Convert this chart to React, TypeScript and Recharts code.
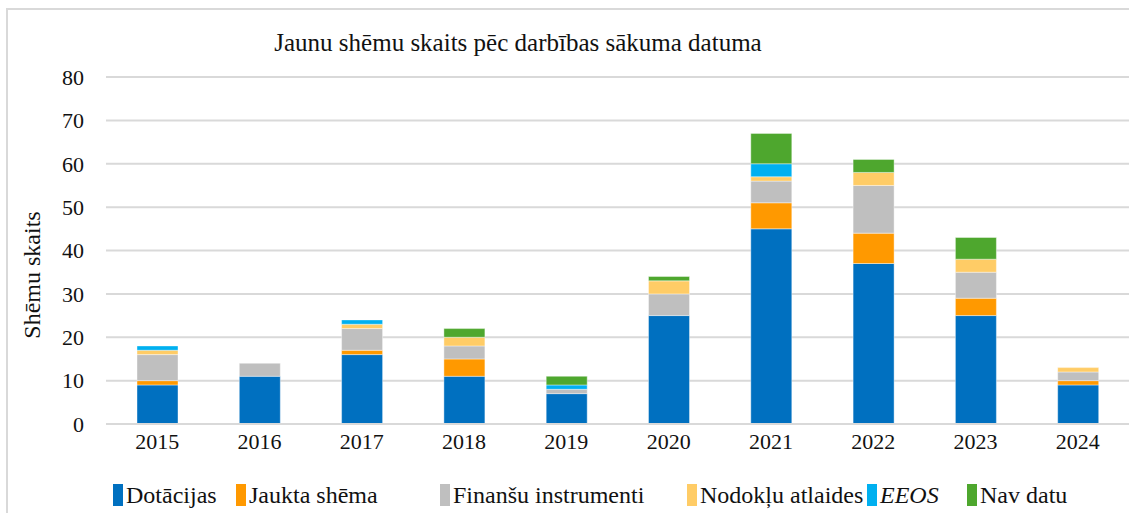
import React from 'react';
import { BarChart, Bar, XAxis, YAxis, CartesianGrid } from 'recharts';

const years = ['2015', '2016', '2017', '2018', '2019', '2020', '2021', '2022', '2023', '2024'];
const dotacijas = [9, 11, 16, 11, 7, 25, 45, 37, 25, 9];
const jaukta = [1, 0, 1, 4, 0, 0, 6, 7, 4, 1];
const finansu = [6, 3, 5, 3, 1, 5, 5, 11, 6, 2];
const nodoklu = [1, 0, 1, 2, 0, 3, 1, 3, 3, 1];
const eeos = [1, 0, 1, 0, 1, 0, 3, 0, 0, 0];
const navDatu = [0, 0, 0, 2, 2, 1, 7, 3, 5, 0];
const yTicks = [0, 10, 20, 30, 40, 50, 60, 70, 80];

const seriesDefs = [
  { key: 'dot', name: 'Dotācijas', color: '#0070C0', vals: dotacijas, italic: false },
  { key: 'jau', name: 'Jaukta shēma', color: '#FF9900', vals: jaukta, italic: false },
  { key: 'fin', name: 'Finanšu instrumenti', color: '#BFBFBF', vals: finansu, italic: false },
  { key: 'nod', name: 'Nodokļu atlaides', color: '#FFCC66', vals: nodoklu, italic: false },
  { key: 'eeo', name: 'EEOS', color: '#00B0F0', vals: eeos, italic: true },
  { key: 'nav', name: 'Nav datu', color: '#4EA72E', vals: navDatu, italic: false },
];

const data = years.map((y, i) => {
  const row: Record<string, any> = { year: y };
  seriesDefs.forEach((s) => { row[s.key] = s.vals[i]; });
  return row;
});

const FONT = '"Liberation Serif", "Times New Roman", serif';
const legendX = [113, 236, 440, 687, 867, 967];

export default function App() {
  return (
    <div style={{ position: 'absolute', left: 0, top: 0, width: 1129, height: 513, overflow: 'hidden', background: '#fff' }}>
      <div style={{ position: 'absolute', left: 6, top: 8, width: 1200, height: 700, border: '2px solid #D9D9D9' }} />
      <div style={{ position: 'absolute', left: 0, top: 0 }}>
        <BarChart width={1129} height={513} data={data} margin={{ top: 77, right: 0, bottom: 59, left: 0 }} barSize={41}>
          <CartesianGrid vertical={false} stroke="#D9D9D9" strokeWidth={2} />
          <XAxis dataKey="year" height={30} axisLine={{ stroke: '#D9D9D9', strokeWidth: 2 }} tickLine={false} tickMargin={3}
            tick={{ fontFamily: FONT, fontSize: 22, fill: '#111' }} />
          <YAxis domain={[0, 80]} ticks={yTicks} width={106} axisLine={false} tickLine={false} tickMargin={16}
            interval={0} tick={{ fontFamily: FONT, fontSize: 22, fill: '#111' }} />
          {seriesDefs.map((s) => (
            <Bar key={s.key} dataKey={s.key} name={s.name} stackId="a" fill={s.color} stroke="#ffffff" strokeOpacity={0.4} strokeWidth={1} isAnimationActive={false} />
          ))}
        </BarChart>
      </div>
      {seriesDefs.map((s, i) => (
        <div key={s.key} style={{ position: 'absolute', left: legendX[i], top: 481, display: 'flex', alignItems: 'center', height: 28 }}>
          <div style={{ width: 10, height: 22, background: s.color, marginRight: 3 }} />
          <span style={{ fontFamily: FONT, fontSize: 24, color: '#111', fontStyle: s.italic ? 'italic' : 'normal', whiteSpace: 'nowrap' }}>{s.name}</span>
        </div>
      ))}
      <div style={{ position: 'absolute', left: 0, width: 1036, top: 29, textAlign: 'center', fontFamily: FONT, fontSize: 25, color: '#111', whiteSpace: 'nowrap' }}>
        Jaunu shēmu skaits pēc darbības sākuma datuma
      </div>
      <div style={{ position: 'absolute', left: 32, top: 275, transform: 'translate(-50%, -50%) rotate(-90deg)', fontFamily: FONT, fontSize: 24, color: '#111', whiteSpace: 'nowrap' }}>
        Shēmu skaits
      </div>
    </div>
  );
}
